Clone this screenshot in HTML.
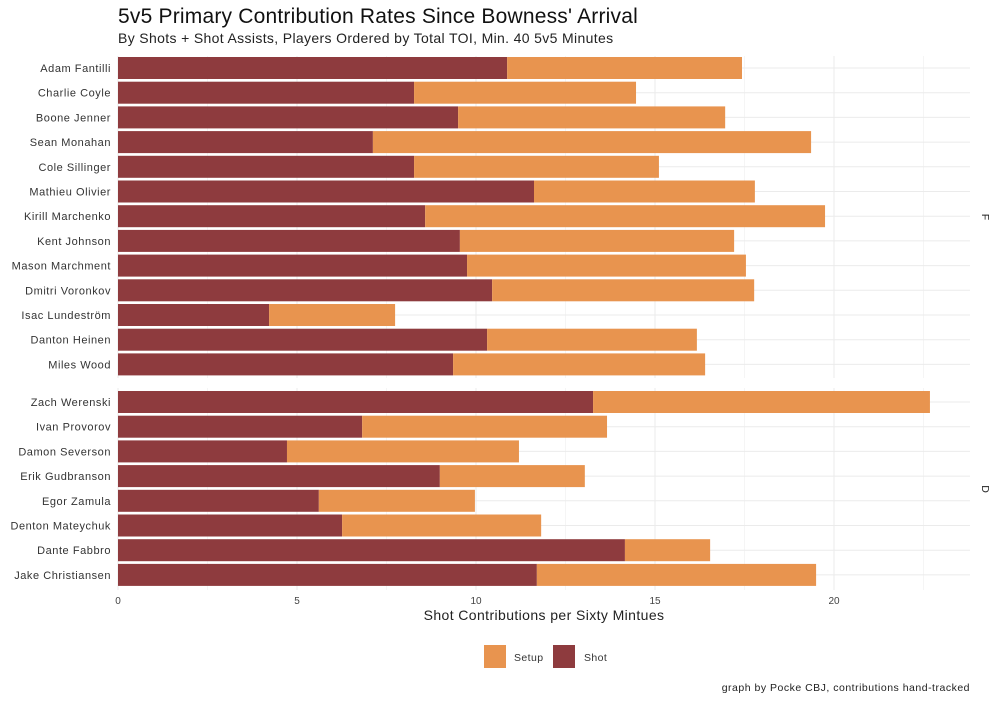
<!DOCTYPE html>
<html><head><meta charset="utf-8"><style>
body{margin:0;background:#fff;font-family:"Liberation Sans",sans-serif}
svg text{font-family:"Liberation Sans",sans-serif}
</style></head><body>
<svg id="c" width="1000" height="700" viewBox="0 0 1000 700" xmlns="http://www.w3.org/2000/svg">
<rect width="1000" height="700" fill="#fff"/>
<text x="118" y="23" font-size="21" letter-spacing="0.2" fill="#111">5v5 Primary Contribution Rates Since Bowness' Arrival</text>
<text x="118" y="43" font-size="14" letter-spacing="0.35" fill="#222">By Shots + Shot Assists, Players Ordered by Total TOI, Min. 40 5v5 Minutes</text>
<g id="grid"></g><g id="bars"></g><g id="labels"></g>
<text x="544" y="620" font-size="14" letter-spacing="0.4" text-anchor="middle" fill="#222">Shot Contributions per Sixty Mintues</text>
<rect x="484" y="645" width="22" height="23" fill="#E8944F"/>
<text x="514" y="661" font-size="10.5" letter-spacing="0.4" fill="#333">Setup</text>
<rect x="553" y="645" width="22" height="23" fill="#8E3B3E"/>
<text x="584" y="661" font-size="10.5" letter-spacing="0.4" fill="#333">Shot</text>
<text x="970" y="691" font-size="10.5" letter-spacing="0.5" text-anchor="end" fill="#222">graph by Pocke CBJ, contributions hand-tracked</text>
</svg>
<script>
const fPlayers=["Adam Fantilli","Charlie Coyle","Boone Jenner","Sean Monahan","Cole Sillinger","Mathieu Olivier","Kirill Marchenko","Kent Johnson","Mason Marchment","Dmitri Voronkov","Isac Lundeström","Danton Heinen","Miles Wood"];
const fShot=[10.87,8.27,9.5,7.12,8.27,11.62,8.58,9.55,9.75,10.45,4.22,10.31,9.36];
const fSetup=[6.56,6.2,7.46,12.24,6.84,6.17,11.17,7.66,7.79,7.32,3.52,5.86,7.04];
const dPlayers=["Zach Werenski","Ivan Provorov","Damon Severson","Erik Gudbranson","Egor Zamula","Denton Mateychuk","Dante Fabbro","Jake Christiansen"];
const dShot=[13.27,6.82,4.72,8.99,5.61,6.26,14.16,11.7];
const dSetup=[9.41,6.84,6.48,4.05,4.36,5.56,2.38,7.8];
const xTicks=[0,5,10,15,20];
const NS="http://www.w3.org/2000/svg";
const x0=118,pxPer=35.8,xR=970;
const X=v=>x0+v*pxPer;
function mk(t,a,p){const e=document.createElementNS(NS,t);for(const k in a)e.setAttribute(k,a[k]);p.appendChild(e);return e;}
const G=document.getElementById('grid'),B=document.getElementById('bars'),L=document.getElementById('labels');
function panel(names,shot,setup,top,bottom,firstY,strip,key){
  for(let v=0;v<=22.5;v+=2.5){const l=mk('line',{x1:X(v),x2:X(v),y1:top,y2:bottom,stroke:'#ebebeb','stroke-width':v%5===0?1:0.5},G);
    }
  names.forEach((n,i)=>{const y=firstY+i*24.7;
    const g=mk('line',{x1:x0,x2:xR,y1:y,y2:y,stroke:'#ebebeb'},G);
    
    const s=mk('rect',{x:X(0),y:y-11,width:shot[i]*pxPer,height:22,fill:'#8E3B3E'},B);
    
    const u=mk('rect',{x:X(shot[i]),y:y-11,width:setup[i]*pxPer,height:22,fill:'#E8944F'},B);
    
    const t=mk('text',{x:111,y:y+4,'font-size':11,'letter-spacing':0.55,'text-anchor':'end',fill:'#333'},L);t.textContent=n;
    
  });
  const st=mk('text',{x:982,y:(top+bottom)/2,'font-size':10.5,'text-anchor':'middle',fill:'#222',transform:`rotate(90 982 ${(top+bottom)/2})`},L);
  st.textContent=strip;
}
panel(fPlayers,fShot,fSetup,56,378,68,'F','f');
panel(dPlayers,dShot,dSetup,388,590,402,'D','d');
xTicks.forEach(v=>{const t=mk('text',{x:X(v),y:604,'font-size':10,'text-anchor':'middle',fill:'#444'},L);t.textContent=v;
  });
</script>
</body></html>
